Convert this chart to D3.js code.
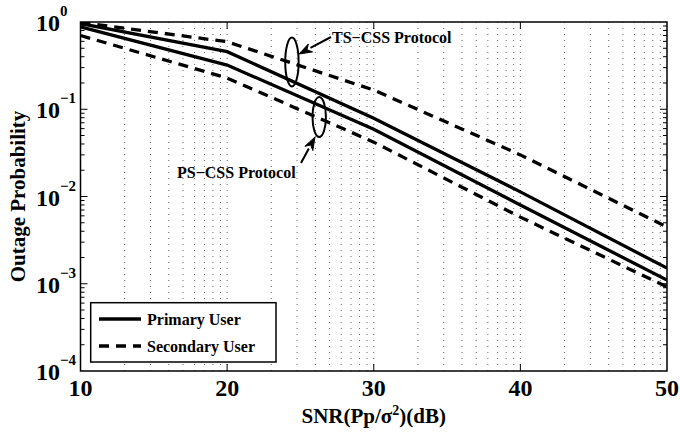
<!DOCTYPE html>
<html>
<head>
<meta charset="utf-8">
<script src="https://cdn.jsdelivr.net/npm/d3@7"></script>
<style>
  body { margin: 0; background: #fff; }
  text { font-family: "Liberation Serif", "Times New Roman", serif; font-weight: bold; }
</style>
</head>
<body>
<div id="chart"></div>
<script>
// SNR in dB
const snr = [10, 20, 30, 40, 50];
// outage probability
const tsPrimary   = [0.96, 0.457, 0.079, 0.0113, 0.00151];
const tsSecondary = [0.99, 0.594, 0.166, 0.030, 0.00447];
const psPrimary   = [0.88, 0.321, 0.059, 0.0080, 0.00110];
const psSecondary = [0.70, 0.228, 0.042, 0.0058, 0.00092];

const xTicks = [10, 20, 30, 40, 50];
const yExps = [0, -1, -2, -3, -4];

const width = 680, height = 437;
const margin = { left: 80.5, right: 13, top: 22, bottom: 66 };

const x = d3.scaleLinear().domain([10, 50]).range([margin.left, width - margin.right]);
const y = d3.scaleLog().domain([1e-4, 1]).range([height - margin.bottom, margin.top]);

const svg = d3.select("#chart").append("svg")
  .attr("width", width).attr("height", height);

const x0 = x.range()[0], x1 = x.range()[1];
const y0 = y.range()[0], y1 = y.range()[1];

// vertical dotted grid (log-style minor spacing inside each 10 dB)
const gridX = [];
for (let d = 10; d < 50; d += 10) {
  for (let k = 2; k <= 9; k++) gridX.push(d + 10 * Math.log10(k));
  if (d > 10) gridX.push(d);
}
svg.append("g").selectAll("line").data(gridX).enter().append("line")
  .attr("x1", d => x(d)).attr("x2", d => x(d))
  .attr("y1", y1).attr("y2", y0)
  .attr("stroke", "#666").attr("stroke-width", 1)
  .attr("stroke-dasharray", "1,5");

// ticks
const g = svg.append("g").attr("stroke", "#000").attr("stroke-width", 1);
xTicks.slice(1, -1).forEach(t => {
  g.append("line").attr("x1", x(t)).attr("x2", x(t)).attr("y1", y0).attr("y2", y0 - 7);
  g.append("line").attr("x1", x(t)).attr("x2", x(t)).attr("y1", y1).attr("y2", y1 + 7);
});
for (let e = -4; e < 0; e++) {
  for (let k = 1; k <= 9; k++) {
    const v = k * Math.pow(10, e);
    const len = k === 1 ? 7 : 4;
    if (k === 1 && e === -4) continue;
    g.append("line").attr("x1", x0).attr("x2", x0 + len).attr("y1", y(v)).attr("y2", y(v));
    g.append("line").attr("x1", x1).attr("x2", x1 - len).attr("y1", y(v)).attr("y2", y(v));
  }
}

// curves
const line = d3.line().x((d, i) => x(snr[i])).y(d => y(d));
const series = [
  { v: tsPrimary, dash: null },
  { v: psPrimary, dash: null },
  { v: tsSecondary, dash: "10,7" },
  { v: psSecondary, dash: "10,7" }
];
svg.append("defs").append("clipPath").attr("id", "clip")
  .append("rect").attr("x", x0).attr("y", y1).attr("width", x1 - x0).attr("height", y0 - y1);
svg.append("g").attr("clip-path", "url(#clip)").selectAll("path").data(series).enter().append("path")
  .attr("d", d => line(d.v))
  .attr("fill", "none").attr("stroke", "#000").attr("stroke-width", 3.3)
  .attr("stroke-dasharray", d => d.dash);

// frame
svg.append("rect").attr("x", x0).attr("y", y1).attr("width", x1 - x0).attr("height", y0 - y1)
  .attr("fill", "none").attr("stroke", "#000").attr("stroke-width", 1.5);

// tick labels
svg.append("g").selectAll("text").data(xTicks).enter().append("text")
  .attr("x", d => x(d)).attr("y", y0 + 25)
  .attr("text-anchor", "middle").attr("font-size", 24).text(d => d);

const yl = svg.append("g");
yExps.forEach(e => {
  const py = y(Math.pow(10, e));
  yl.append("text").attr("x", 60).attr("y", py + 9).attr("text-anchor", "end")
    .attr("font-size", 24).text("10");
  yl.append("text").attr("x", 60).attr("y", py - 6).attr("text-anchor", "start")
    .attr("font-size", 15).text(e === 0 ? "0" : "\u2212" + (-e));
});

// axis titles
const xt = svg.append("text").attr("x", (x0 + x1) / 2).attr("y", 423)
  .attr("text-anchor", "middle").attr("font-size", 21);
xt.append("tspan").text("SNR(Pp/\u03c3");
xt.append("tspan").attr("font-size", 14).attr("dy", -8).text("2");
xt.append("tspan").attr("dy", 8).text(")(dB)");

svg.append("text").attr("transform", `translate(25,${(y0 + y1) / 2}) rotate(-90)`)
  .attr("text-anchor", "middle").attr("font-size", 21).text("Outage Probability");

// annotations
const ann = svg.append("g").attr("stroke", "#000").attr("fill", "none").attr("stroke-width", 2);
ann.append("ellipse").attr("cx", x(24.42)).attr("cy", y(0.348)).attr("rx", 6.7).attr("ry", 24.5);
ann.append("ellipse").attr("cx", x(26.28)).attr("cy", y(0.0815)).attr("rx", 6.7).attr("ry", 20);

function arrow(xa, ya, xb, yb) {
  const ang = Math.atan2(yb - ya, xb - xa);
  const L = 13, W = 4.5;
  const bx = xb - L * Math.cos(ang), by = yb - L * Math.sin(ang);
  ann.append("line").attr("x1", xa).attr("y1", ya).attr("x2", bx).attr("y2", by);
  const px = -Math.sin(ang) * W, py = Math.cos(ang) * W;
  svg.append("path")
    .attr("d", `M${xb},${yb}L${bx + px},${by + py}L${bx + 4 * Math.cos(ang)},${by + 4 * Math.sin(ang)}L${bx - px},${by - py}Z`)
    .attr("fill", "#000").attr("stroke", "#000").attr("stroke-width", 1);
}
arrow(331, 37, 299, 54);
arrow(301, 163, 315, 137);

svg.append("text").attr("x", 332).attr("y", 43).attr("font-size", 16).text("TS\u2212CSS Protocol");
svg.append("text").attr("x", 177).attr("y", 178).attr("font-size", 16).text("PS\u2212CSS Protocol");

// legend
const lg = svg.append("g");
lg.append("rect").attr("x", 90.7).attr("y", 302.7).attr("width", 185.3).attr("height", 59.3)
  .attr("fill", "#fff").attr("stroke", "#000").attr("stroke-width", 1.5);
[{ label: "Primary User", dash: null, yy: 319 }, { label: "Secondary User", dash: "10,7", yy: 346 }]
  .forEach(d => {
    lg.append("line").attr("x1", 99).attr("x2", 141).attr("y1", d.yy).attr("y2", d.yy)
      .attr("stroke", "#000").attr("stroke-width", 3.3).attr("stroke-dasharray", d.dash);
    lg.append("text").attr("x", 147).attr("y", d.yy + 6).attr("font-size", 16).text(d.label);
  });
</script>
</body>
</html>
